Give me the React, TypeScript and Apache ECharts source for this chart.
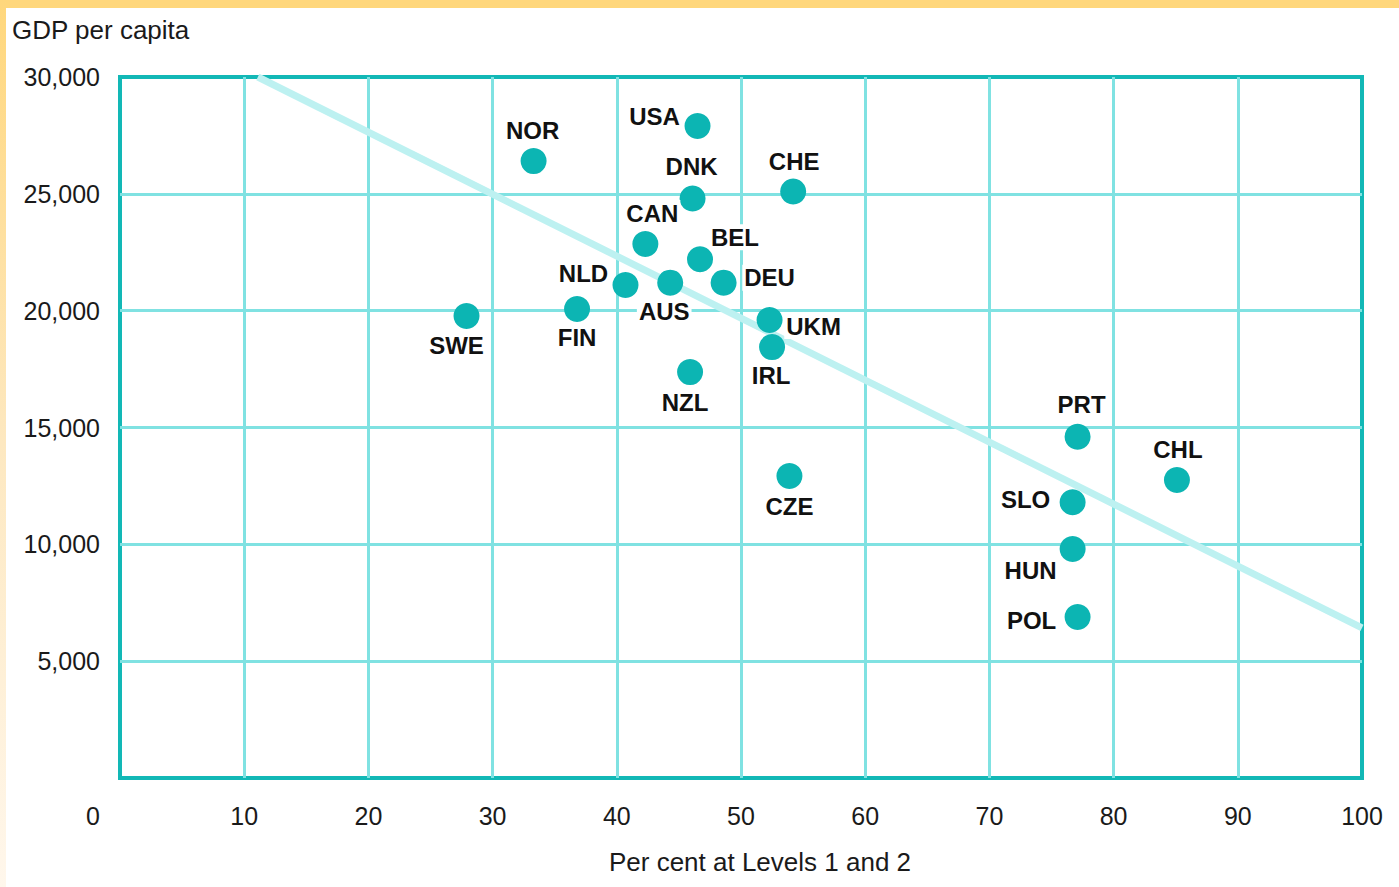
import React, { useEffect, useRef } from "react";
import * as echarts from "echarts";

const countries = ["USA", "NOR", "DNK", "CHE", "CAN", "BEL", "AUS", "DEU", "NLD", "FIN", "SWE", "UKM", "IRL", "NZL", "CZE", "PRT", "CHL", "SLO", "HUN", "POL"];
const levelsPct = [46.5, 33.3, 46.1, 54.2, 42.3, 46.7, 44.3, 48.6, 40.7, 36.8, 27.9, 52.3, 52.5, 45.9, 53.9, 77.1, 85.1, 76.7, 76.7, 77.1];
const gdpPerCapita = [27900, 26400, 24800, 25100, 22850, 22200, 21200, 21200, 21100, 20070, 19770, 19600, 18440, 17370, 12920, 14600, 12750, 11800, 9800, 6890];
const trendX = [11.1, 100];
const trendY = [30000, 6420];
const xTicks = [0, 10, 20, 30, 40, 50, 60, 70, 80, 90, 100];
const yTicks = [0, 5000, 10000, 15000, 20000, 25000, 30000];

// label placement (pixels relative to point centre)
const labelOffsets: Record<string, [number, number]> = {
  USA: [-43, -10], NOR: [-1, -31], DNK: [-1, -32], CHE: [1, -30], CAN: [7, -31],
  BEL: [35, -22], AUS: [-6, 29], DEU: [46, -5], NLD: [-42, -11], FIN: [0, 28],
  SWE: [-10, 29], UKM: [44, 6], IRL: [-1, 28], NZL: [-5, 30], CZE: [0, 30],
  PRT: [4, -32], CHL: [1, -31], SLO: [-47, -3], HUN: [-42, 21], POL: [-46, 3],
};

export default function App() {
  const ref = useRef<HTMLDivElement>(null);
  useEffect(() => {
    if (!ref.current) return;
    const chart = echarts.init(ref.current, undefined, { renderer: "svg" });
    const font = "'Liberation Sans', Arial, sans-serif";
    const points = countries.map((c, i) => ({
      name: c,
      value: [levelsPct[i], gdpPerCapita[i]],
      label: { offset: labelOffsets[c] },
    }));
    chart.setOption({
      animation: false,
      backgroundColor: "#ffffff",
      grid: { left: 120, right: 37, top: 77, bottom: 109, show: true, borderColor: "#12b8b6", borderWidth: 4, backgroundColor: "transparent" },
      xAxis: {
        type: "value",
        min: xTicks[0],
        max: xTicks[xTicks.length - 1],
        interval: 10,
        axisLine: { show: false },
        axisTick: { show: false },
        splitLine: { show: true, showMinLine: false, showMaxLine: false, lineStyle: { color: "#80e2e2", width: 3 } },
        axisLabel: {
          margin: 25,
          fontFamily: font,
          fontSize: 25,
          color: "#1a1a1a",
          formatter: (v: number) => (v === 0 ? "{zero|0}" : String(v)),
          rich: { zero: { fontFamily: font, fontSize: 25, color: "#1a1a1a", padding: [0, 54, 0, 0] } },
        },
      },
      yAxis: {
        type: "value",
        min: yTicks[0],
        max: yTicks[yTicks.length - 1],
        interval: 5000,
        axisLine: { show: false },
        axisTick: { show: false },
        splitLine: { show: true, showMinLine: false, showMaxLine: false, lineStyle: { color: "#80e2e2", width: 3 } },
        axisLabel: {
          margin: 20,
          fontFamily: font,
          fontSize: 25,
          color: "#1a1a1a",
          formatter: (v: number) => (v === 0 ? "" : v.toLocaleString("en-US")),
        },
      },
      graphic: [
        { type: "rect", left: 0, top: 0, shape: { width: 1399, height: 8 }, style: { fill: "#ffd77c" }, silent: true },
        {
          type: "rect", left: 0, top: 0, shape: { width: 6, height: 887 }, silent: true,
          style: { fill: new echarts.graphic.LinearGradient(0, 0, 0, 1, [{ offset: 0, color: "#ffd77c" }, { offset: 0.5, color: "#fde8c0" }, { offset: 1, color: "#fff7ec" }]) },
        },
        { type: "text", left: 12, top: 17, style: { text: "GDP per capita", font: `26px ${font}`, fill: "#1a1a1a" } },
        { type: "text", x: 760, y: 862, style: { text: "Per cent at Levels 1 and 2", font: `26px ${font}`, fill: "#1a1a1a", align: "center", verticalAlign: "middle" } },
      ],
      series: [
        {
          type: "line",
          data: trendX.map((x, i) => [x, trendY[i]]),
          showSymbol: false,
          symbol: "none",
          lineStyle: { color: "#bdf1f1", width: 7 },
          z: 2,
          silent: true,
        },
        {
          type: "scatter",
          data: points,
          symbolSize: 26,
          itemStyle: { color: "#0cb5b3", opacity: 1 },
          z: 3,
          label: {
            show: true,
            position: "inside",
            formatter: "{b}",
            fontFamily: font,
            fontWeight: "bold",
            fontSize: 24,
            color: "#111",
            backgroundColor: "#ffffff",
            padding: [1, 2],
          },
        },
      ],
    });
    return () => chart.dispose();
  }, []);
  return <div ref={ref} style={{ position: "absolute", left: 0, top: 0, width: 1399, height: 887 }} />;
}
